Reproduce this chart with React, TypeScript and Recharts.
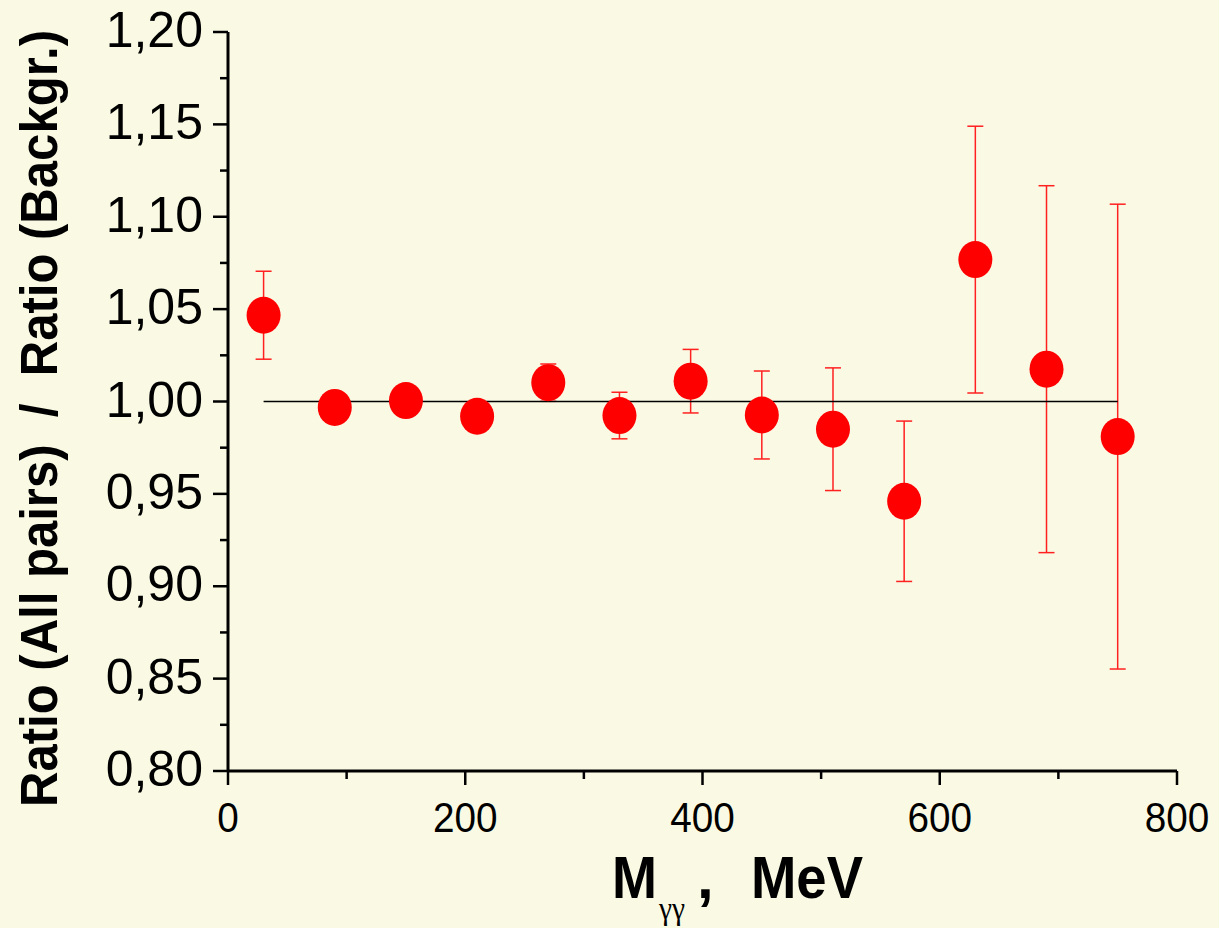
import React from 'react';
import { ScatterChart, Scatter, XAxis, YAxis, ErrorBar } from 'recharts';

const massMeV = [30, 90, 150, 210, 270, 330, 390, 450, 510, 570, 630, 690, 750];
const ratioValues = [1.0467, 0.9968, 1.0005, 0.992, 1.0102, 0.9924, 1.011, 0.9927, 0.985, 0.946, 1.0768, 1.0175, 0.981];
const ratioErrors = [0.0238, 0.005, 0.004, 0.005, 0.0101, 0.0126, 0.0172, 0.0238, 0.0332, 0.0434, 0.0722, 0.0993, 0.1258];
const lineX = [30, 750];
const lineY = [1.0, 1.0];
const xTicks = [0, 100, 200, 300, 400, 500, 600, 700, 800];
const yTicks = [0.8, 0.825, 0.85, 0.875, 0.9, 0.925, 0.95, 0.975, 1.0, 1.025, 1.05, 1.075, 1.1, 1.125, 1.15, 1.175, 1.2];

const points = massMeV.map((m, i) => ({ x: m, y: ratioValues[i], err: ratioErrors[i] }));
const refLine = lineX.map((m, i) => ({ x: m, y: lineY[i] }));

const BG = '#FAFAE4';

const XTick = (props: any) => {
  const { x, y, payload } = props;
  const v = payload.value;
  const major = v % 200 === 0;
  return (
    <g>
      <line x1={x} x2={x} y1={y} y2={y + (major ? 14 : 8)} stroke="#000" strokeWidth={2.5} />
      {major && (
        <text
          x={x}
          y={y + 61}
          textAnchor="middle"
          fontFamily="'Liberation Sans', Arial, sans-serif"
          fontSize={43}
          fill="#000"
          transform={`translate(${x} 0) scale(0.9 1) translate(${-x} 0)`}
        >
          {String(v)}
        </text>
      )}
    </g>
  );
};

const YTick = (props: any) => {
  const { x, y, payload } = props;
  const v = payload.value;
  const major = Math.round(v * 1000) % 50 === 0;
  return (
    <g>
      <line x1={x - (major ? 15 : 8)} x2={x} y1={y} y2={y} stroke="#000" strokeWidth={2.5} />
      {major && (
        <text
          x={x - 25}
          y={y + 15}
          textAnchor="end"
          fontFamily="'Liberation Sans', Arial, sans-serif"
          fontSize={50}
          fill="#000"
        >
          {v.toFixed(2).replace('.', ',')}
        </text>
      )}
    </g>
  );
};

const Dot = (props: any) => {
  const { cx, cy } = props;
  if (cx == null || cy == null) return null;
  return <ellipse cx={cx} cy={cy} rx={17} ry={18.5} fill="#FF0000" />;
};

const NoDot = () => null;

const XTitle = () => (
  <g fontFamily="'Liberation Sans', Arial, sans-serif" fill="#000">
    <text x={612} y={898} fontSize={60} fontWeight="bold" textLength={45} lengthAdjust="spacingAndGlyphs">M</text>
    <text x={659} y={919} fontSize={32} fontFamily="'Liberation Serif', 'Times New Roman', serif" textLength={26} lengthAdjust="spacingAndGlyphs">γγ</text>
    <text x={697} y={898} fontSize={60} fontWeight="bold">,</text>
    <text x={751} y={898} fontSize={60} fontWeight="bold" textLength={112} lengthAdjust="spacingAndGlyphs">MeV</text>
  </g>
);

const YTitle = () => (
  <text
    x={57}
    y={418.5}
    transform="rotate(-90 57 418.5)"
    textAnchor="middle"
    fontFamily="'Liberation Sans', Arial, sans-serif"
    fontSize={51}
    fontWeight="bold"
    fill="#000"
    textLength={777}
    lengthAdjust="spacingAndGlyphs"
    style={{ whiteSpace: 'pre' }}
  >
    {'Ratio (All pairs)  /  Ratio (Backgr.)'}
  </text>
);

export default function App() {
  return (
    <div style={{ position: 'absolute', left: 0, top: 0, width: 1219, height: 928, background: BG }}>
      <ScatterChart width={1219} height={928} margin={{ top: 32, right: 42, bottom: 0, left: 0 }} style={{ background: BG }}>
        <XAxis
          type="number"
          dataKey="x"
          domain={[0, 800]}
          ticks={xTicks}
          interval={0}
          height={157}
          tickSize={0}
          tickMargin={0}
          tickLine={false}
          axisLine={{ stroke: '#000', strokeWidth: 3 }}
          tick={<XTick />}
          label={{ content: () => <XTitle /> }}
          allowDataOverflow
        />
        <YAxis
          type="number"
          dataKey="y"
          domain={[0.8, 1.2]}
          ticks={yTicks}
          interval={0}
          width={228}
          tickSize={0}
          tickMargin={0}
          tickLine={false}
          axisLine={{ stroke: '#000', strokeWidth: 3 }}
          tick={<YTick />}
          label={{ content: () => <YTitle /> }}
          allowDataOverflow
        />
        <Scatter
          data={refLine}
          line={{ stroke: '#000', strokeWidth: 1.5 }}
          shape={<NoDot />}
          isAnimationActive={false}
        />
        <Scatter data={points} shape={<Dot />} isAnimationActive={false}>
          <ErrorBar dataKey="err" direction="y" width={8} stroke="#FF2020" strokeWidth={1.5} />
        </Scatter>
      </ScatterChart>
    </div>
  );
}
